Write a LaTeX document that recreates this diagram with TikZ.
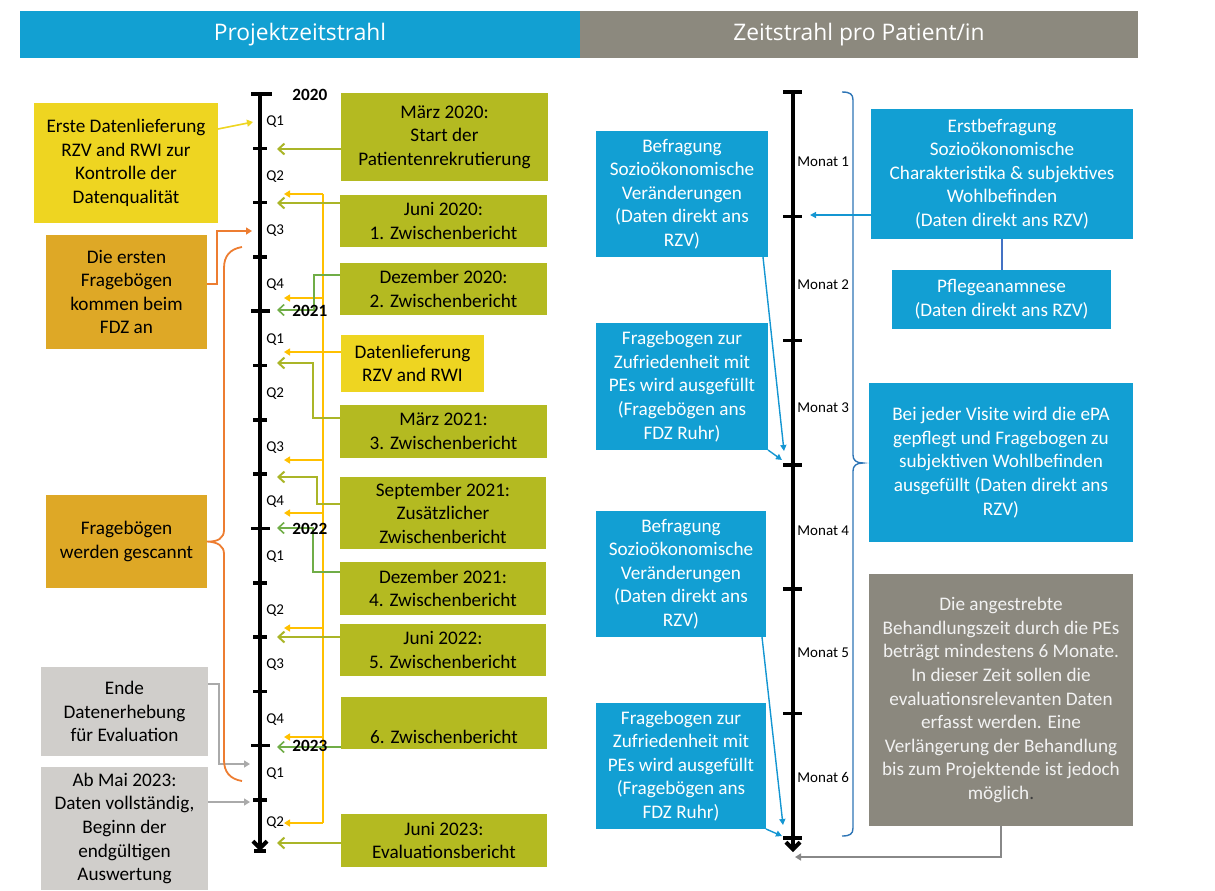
\documentclass[tikz,border=0pt]{standalone}
\usepackage{fontspec}
\setmainfont{Carlito}
\newfontfamily\headfont{Open Sans}
\usetikzlibrary{arrows.meta}

\definecolor{hdrblue}{RGB}{18,160,210}
\definecolor{hdrgray}{RGB}{140,137,126}
\definecolor{boxyellow}{RGB}{238,213,33}
\definecolor{boxgold}{RGB}{222,168,38}
\definecolor{boxolive}{RGB}{180,186,33}
\definecolor{boxlight}{RGB}{208,206,203}
\definecolor{boxblue}{RGB}{18,159,211}
\definecolor{boxtaupe}{RGB}{139,136,126}
\definecolor{lnolive}{RGB}{170,181,40}
\definecolor{lngreen}{RGB}{112,173,71}
\definecolor{lnyellow}{RGB}{255,192,0}
\definecolor{lnorange}{RGB}{237,125,49}
\definecolor{lngray}{RGB}{170,170,170}
\definecolor{lnblue}{RGB}{20,150,210}
\definecolor{lnnavy}{RGB}{46,117,182}
\definecolor{lndark}{RGB}{68,114,196}
\definecolor{dotgray}{RGB}{60,60,60}
\definecolor{paletext}{RGB}{242,242,242}

\newcommand{\bodysize}{\fontsize{9.6}{11.8}\selectfont}

\tikzset{
  % rectangle given by its corners x1,y1,x2,y2 in pixel units
  rect/.style n args={4}{at={({(#1+#3)/2},{(#2+#4)/2})},
    minimum width={(#3-#1)*0.5pt}, minimum height={(#4-#2)*0.5pt}},
  box/.style={inner sep=0pt, outer sep=0pt, align=center, font=\bodysize, text=black},
  bluebox/.style={box, fill=boxblue, text=white},
  hdr/.style={inner sep=0pt, outer sep=0pt, text=white, font=\headfont\fontsize{11.4}{13}\selectfont},
  tline/.style={line width=2pt, -{Straight Barb[length=3.5pt,width=7pt]}},
  tick/.style={line width=1.8pt},
  qlab/.style={anchor=west, inner sep=0pt, font=\fontsize{7.5}{9}\selectfont},
  yearlab/.style={anchor=west, inner sep=0pt, font=\bfseries\fontsize{8.6}{10}\selectfont},
  olarrow/.style={draw=lnolive, line width=1pt, -{Straight Barb[length=3pt,width=5.5pt]}},
  grarrow/.style={draw=lngreen, line width=0.8pt, -{Straight Barb[length=3pt,width=5.5pt]}},
  ylarrow/.style={draw=lnyellow, line width=1pt, -{Triangle[length=3pt,width=3.5pt]}},
  ylline/.style={draw=lnyellow, line width=1pt},
  orarrow/.style={draw=lnorange, line width=0.9pt, -{Triangle[length=3pt,width=3.5pt]}},
  gyarrow/.style={draw=lngray, line width=0.8pt, -{Triangle[length=3pt,width=3.5pt]}},
  blarrow/.style={draw=lnblue, line width=0.7pt, -{Triangle[length=3pt,width=3pt]}},
}

\begin{document}
\begin{tikzpicture}[x=0.5pt,y=-0.5pt]
\useasboundingbox (0,0) rectangle (1215,890);

% header bars
\node[hdr, fill=hdrblue, rect={20}{11}{580}{58}] (hL) {Projektzeitstrahl};
\node[hdr, fill=hdrgray, rect={580}{11}{1138}{58}] (hR) {Zeitstrahl pro Patient/in};

% ---------- project timeline ----------
\foreach \i in {0,...,13} {
  \coordinate (Lt\i) at (260,{94+54.3*\i});
}
\coordinate (Lend) at (260,851);
\draw[tline] (Lt0) -- (Lend);
\draw[tick] ([xshift=-3pt]Lend) -- ([xshift=3pt]Lend);
\foreach \i in {1,2,3,5,6,7,9,10,11,13} {
  \draw[tick] ([xshift=-3.5pt]Lt\i) -- ([xshift=3.5pt]Lt\i);
}
\draw[tick] ([xshift=-4.5pt]Lt0) -- ([xshift=6pt]Lt0);
\foreach \i in {4,8,12} {
  \draw[tick] ([xshift=-4.5pt]Lt\i) -- ([xshift=5pt]Lt\i);
}
\foreach \i in {0,...,12} {
  \pgfmathtruncatemacro{\q}{mod(\i,4)+1}
  \node[qlab] (q\i) at (266,{94+54.3*\i+28}) {Q\q};
}
\node[qlab] (q13) at (266,823) {Q2};

% left boxes
\node[box, fill=boxyellow, rect={34}{103}{218}{223}] (yel1) {Erste Datenlieferung\\RZV and RWI zur\\Kontrolle der\\Datenqualität};
\node[box, fill=boxgold, rect={46}{235}{207}{349}] (gold1) {Die ersten\\Fragebögen\\kommen beim\\FDZ an};
\node[box, fill=boxgold, rect={46}{495}{207}{588}] (gold2) {Fragebögen\\werden gescannt};
\node[box, fill=boxlight, rect={41}{667}{208}{756}] (grayA) {Ende\\Datenerhebung\\für Evaluation};
\node[box, fill=boxlight, rect={41}{767}{208}{890}] (grayB) {Ab Mai 2023:\\Daten vollständig,\\Beginn der\\endgültigen\\Auswertung};

% right-hand milestone boxes
\node[box, fill=boxolive, rect={341}{93}{548}{181}] (g1) {März 2020:\\Start der\\Patientenrekrutierung};
\node[box, fill=boxolive, rect={340}{195}{547}{247}] (g2) {Juni 2020:\\1. Zwischenbericht};
\node[box, fill=boxolive, rect={340}{263}{547}{315}] (g3) {Dezember 2020:\\2. Zwischenbericht};
\node[box, fill=boxyellow, rect={341}{335}{484}{392}] (ydat) {Datenlieferung\\RZV and RWI};
\node[box, fill=boxolive, rect={340}{405}{547}{458}] (g4) {März 2021:\\3. Zwischenbericht};
\node[box, fill=boxolive, rect={340}{477}{546}{549}] (g5) {September 2021:\\Zusätzlicher\\Zwischenbericht};
\node[box, fill=boxolive, rect={340}{562}{546}{615}] (g6) {Dezember 2021:\\4. Zwischenbericht};
\node[box, fill=boxolive, rect={340}{624}{546}{676}] (g7) {Juni 2022:\\5. Zwischenbericht};
\node[box, fill=boxolive, rect={341}{697}{547}{749}] (g8) {\strut\\6. Zwischenbericht};
\node[box, fill=boxolive, rect={341}{814}{547}{867}] (g9) {Juni 2023:\\Evaluationsbericht};

% arrow targets on the project timeline
\coordinate (a1) at (277,149);
\coordinate (a2) at (277,203);
\coordinate (c3) at (314,275);  \coordinate (a3) at (277,310);
\coordinate (c4) at (313,418);  \coordinate (a4) at (277,363);
\coordinate (c5) at (317,504);  \coordinate (a5) at (277,477);
\coordinate (c6) at (313,572);  \coordinate (a6) at (277,528);
\coordinate (a7) at (277,637);
\coordinate (a8) at (277,747);
\coordinate (a9) at (277,843);

% quarterly data deliveries
\coordinate (ysTop) at (323,194);
\coordinate (ysBot) at (323,823);
\draw[ylline] (ysTop) -- (ysBot);
\foreach \k/\y in {1/194,2/298,3/460,4/513,5/628,6/737,7/823} {
  \coordinate (ys\k) at (323,\y);
  \coordinate (yt\k) at (284,\y);
  \draw[ylarrow] (ys\k) -- (yt\k);
}
\coordinate (ytd) at (284,352);
\draw[ylarrow] (ydat.west |- ytd) -- (ytd);

\draw[olarrow] (g1.west |- a1) -- (a1);
\draw[olarrow] (g2.west |- a2) -- (a2);
\draw[grarrow] (g3.west |- c3) -- (c3) |- (a3);
\draw[olarrow] (g4.west |- c4) -- (c4) |- (a4);
\draw[olarrow] (g5.west |- c5) -- (c5) |- (a5);
\draw[grarrow] (g6.west |- c6) -- (c6) |- (a6);
\draw[olarrow] (g7.west |- a7) -- (a7);
\draw[grarrow] (g8.west |- a8) -- (a8);
\draw[olarrow] (g9.west |- a9) -- (a9);

% year labels sit on top of the connectors
\node[yearlab] (y2020) at (292,95) {2020};
\node[yearlab] (y2021) at (292,311) {2021};
\node[yearlab] (y2022) at (292,529) {2022};
\node[yearlab] (y2023) at (292,746) {2023};

% connectors from the left boxes
\coordinate (yt0) at (253,122);
\draw[draw=boxyellow, line width=0.8pt, -{Triangle[length=3pt,width=3.5pt]}] ([yshift=17pt]yel1.east) -- (yt0);
\coordinate (o1) at (217,284);
\coordinate (o2) at (252,231);
\draw[orarrow] (gold1.east |- o1) -- (o1) |- (o2);
\coordinate (gA) at (219,684);
\coordinate (gAt) at (250,764);
\draw[gyarrow] (grayA.east |- gA) -- (gA) |- (gAt);
\coordinate (gBt) at (250,802);
\draw[gyarrow] (grayB.east |- gBt) -- (gBt);

% brace for scanning period
\draw[draw=lnorange, line width=0.9pt]
  (242,247) .. controls (230,249) and (224,256) .. (224,268)
  -- (224,530) .. controls (224,538) and (218,542) .. (gold2.east)
  .. controls (218,542) and (224,546) .. (224,554)
  -- (224,760) .. controls (224,772) and (230,779) .. (242,781);

% ---------- patient timeline ----------
\foreach \i in {0,...,6} {
  \coordinate (Rt\i) at (793,{92+124.3*\i});
  \draw[tick] ([xshift=-5pt]Rt\i) -- ([xshift=4.5pt]Rt\i);
}
\coordinate (Rend) at (793,852);
\draw[tline] (Rt0) -- (Rend);
\foreach \m/\y in {1/162,2/285,3/408,4/531,5/653,6/777} {
  \node[qlab] (mon\m) at (797,\y) {Monat \m};
}

% brace for the treatment period
\draw[draw=lnnavy, line width=0.7pt]
  (842,92) .. controls (850,92) and (853,94) .. (853,100)
  -- (853,455) .. controls (853,460) and (856,463) .. (863,463)
  .. controls (856,463) and (853,466) .. (853,471)
  -- (853,828) .. controls (853,834) and (850,836) .. (842,836);

% patient boxes
\node[bluebox, rect={596}{131}{768}{257}] (b1) {Befragung\\Sozioökonomische\\Veränderungen\\(Daten direkt ans\\RZV)};
\node[bluebox, rect={596}{323}{768}{450}] (b2) {Fragebogen zur\\Zufriedenheit mit\\PEs wird ausgefüllt\\(Fragebögen ans\\FDZ Ruhr)};
\node[bluebox, rect={596}{511}{766}{637}] (b3) {Befragung\\Sozioökonomische\\Veränderungen\\(Daten direkt ans\\RZV)};
\node[bluebox, rect={596}{703}{766}{829}] (b4) {Fragebogen zur\\Zufriedenheit mit\\PEs wird ausgefüllt\\(Fragebögen ans\\FDZ Ruhr)};
\node[bluebox, rect={871}{109}{1133}{239}] (r1) {Erstbefragung\\Sozioökonomische\\Charakteristika \& subjektives\\Wohlbefinden\\(Daten direkt ans RZV)};
\node[bluebox, rect={892}{270}{1111}{329}] (r2) {Pflegeanamnese\\(Daten direkt ans RZV)};
\node[bluebox, rect={869}{383}{1133}{542}] (r3) {Bei jeder Visite wird die ePA\\gepflegt und Fragebogen zu\\subjektiven Wohlbefinden\\ausgefüllt (Daten direkt ans\\RZV)};
\node[box, fill=boxtaupe, text=paletext, rect={869}{574}{1133}{826}] (r4) {Die angestrebte\\Behandlungszeit durch die PEs\\beträgt mindestens 6 Monate.\\In dieser Zeit sollen die\\evaluationsrelevanten Daten\\erfasst werden. Eine\\Verlängerung der Behandlung\\bis zum Projektende ist jedoch\\möglich{\color{dotgray}.}};

% patient connectors
\coordinate (bt1) at (784,451);
\coordinate (bt2) at (782,460);
\coordinate (bt3) at (783,825);
\coordinate (bt4) at (782,836);
\coordinate (bt5) at (810,215);
\coordinate (bt6) at (795,857);
\draw[blarrow] ([xshift=-2.5pt]b1.south east) -- (bt1);
\draw[blarrow] (b2.south east) -- (bt2);
\draw[blarrow] ([xshift=-2pt]b3.south east) -- (bt3);
\draw[blarrow] (b4.south east) -- (bt4);
\draw[blarrow] (r1.west |- bt5) -- (bt5);
\draw[draw=lndark, line width=0.8pt] (r1.south) -- (r1.south |- r2.north);
\draw[draw=lngray!80!black, line width=0.8pt, -{Triangle[length=3pt,width=3.5pt]}] (r4.south) |- (bt6);

\end{tikzpicture}
\end{document}
